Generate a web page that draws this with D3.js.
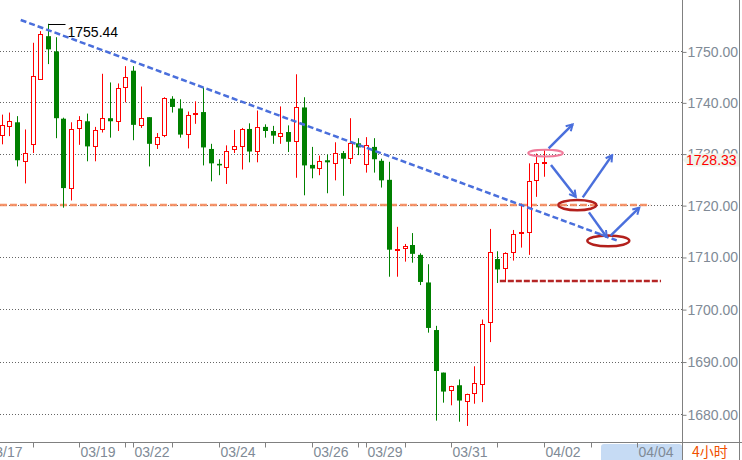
<!DOCTYPE html>
<html><head><meta charset="utf-8">
<script src="https://cdn.jsdelivr.net/npm/d3@7/dist/d3.min.js"></script>
<style>body{margin:0;background:#fff}svg{display:block}</style>
</head><body><svg id="c" width="742" height="460"></svg>
<script>
// ---- data (4-hour candles, XAU) ----
const opens  = [1733.6,1735.3,1736.1,1728.5,1731.9,1744.6,1753.0,1750.0,1736.8,1723.3,1734.9,1736.3,1731.4,1734.7,1736.9,1736.3,1743.1,1746.2,1735.6,1737.1,1731.8,1733.6,1740.7,1738.8,1733.8,1737.7,1738.1,1730.9,1728.0,1727.4,1730.9,1731.4,1734.8,1730.5,1735.2,1734.4,1733.4,1734.2,1732.4,1739.0,1727.8,1727.2,1728.7,1728.2,1730.1,1729.1,1732.0,1728.0,1731.3,1728.6,1724.9,1711.4,1711.8,1712.3,1710.4,1705.1,1696.0,1687.9,1684.6,1685.5,1682.5,1684.1,1685.7,1697.6,1709.6,1707.8,1710.9,1714.7,1714.9,1724.8,1728.1];
const highs  = [1737.6,1738.0,1737.3,1734.7,1751.7,1754.0,1755.44,1752.8,1737.0,1736.1,1737.3,1737.8,1735.2,1745.6,1743.9,1743.7,1747.1,1747.1,1743.1,1737.1,1734.0,1741.0,1741.2,1740.6,1738.2,1740.2,1742.9,1731.9,1728.9,1731.6,1734.6,1735.0,1735.9,1738.4,1735.7,1735.4,1739.2,1735.5,1745.5,1741.0,1731.3,1729.6,1729.8,1732.2,1730.5,1736.9,1733.0,1733.2,1733.0,1729.0,1728.4,1715.8,1712.5,1714.6,1710.7,1708.6,1696.8,1687.9,1685.4,1686.6,1683.9,1689.1,1698.0,1715.4,1711.1,1710.9,1715.2,1720.3,1728.1,1730.0,1730.7];
const lows   = [1731.8,1733.4,1727.5,1724.2,1730.1,1744.6,1747.5,1733.0,1719.5,1720.9,1731.7,1728.5,1728.5,1734.1,1733.1,1734.4,1740.0,1732.6,1735.0,1727.5,1730.9,1733.2,1738.0,1733.1,1731.0,1735.8,1727.7,1724.6,1725.8,1724.1,1730.1,1726.9,1728.3,1728.3,1733.1,1731.9,1731.9,1730.3,1725.3,1721.9,1725.2,1725.8,1722.3,1724.8,1721.8,1728.0,1729.7,1726.3,1726.3,1723.4,1706.2,1706.2,1709.1,1708.9,1704.6,1695.5,1678.8,1682.2,1681.7,1678.6,1677.8,1682.0,1682.3,1693.7,1705.0,1705.2,1709.3,1711.8,1710.4,1721.6,1725.5];
const closes = [1735.5,1736.3,1728.7,1730.1,1745.2,1753.4,1750.4,1736.9,1723.3,1734.7,1736.5,1731.4,1734.5,1737.0,1736.3,1742.9,1744.9,1735.6,1737.0,1731.9,1733.2,1740.8,1739.1,1733.7,1737.6,1738.0,1731.2,1728.1,1727.7,1730.5,1731.5,1734.8,1730.4,1735.1,1734.4,1733.5,1734.1,1732.3,1739.0,1727.7,1727.1,1728.5,1728.3,1730.2,1729.0,1732.0,1731.2,1731.6,1728.9,1724.8,1711.4,1711.6,1712.1,1710.6,1705.2,1696.4,1688.2,1684.3,1685.4,1682.6,1683.9,1686.0,1697.1,1710.9,1707.6,1710.7,1714.5,1714.9,1724.6,1728.2,1728.33];

const dayTickIdx    = [-2, 4, 10, 16, 17, 22, 28, 34, 40, 46, 47, 52, 58, 64, 70, 76, 82];
const dayTickLabels = ["03/17","","03/19","","03/22","","03/24","","03/26","","03/29","","03/31","","04/02","","04/04"];
const priceTicks    = [1680, 1690, 1700, 1710, 1720, 1730, 1740, 1750];
const lastPrice     = 1728.33;
const periodLabel   = "4小时";
const highMarkIdx   = 6;
const highMarkValue = 1755.44;

// annotations in (candle index, price) coordinates
const trendLine   = [[2.48, 1756.2], [79.38, 1713.2]];
const supportLine = [[-0.2, 1720.0], [83.7, 1720.0]];
const targetLine  = [[64.3, 1705.4], [85.1, 1705.4]];
const pinkEllipse = [70.2, 1730.1];
const redEllipses = [[74.3, 1720.0], [78.3, 1713.1]];
const arrows = [
  [70.6, 1731.0, 73.7, 1735.7],
  [70.9, 1727.8, 74.1, 1721.6],
  [75.0, 1721.5, 78.8, 1729.7],
  [75.8, 1718.6, 78.1, 1713.8],
  [78.6, 1714.1, 82.3, 1719.5]
];

// ---- drawing ----
const svg = d3.select("#c");
const W = 742, H = 460, axisX = 682.5, axisY = 442.5;
const x = d3.scaleLinear().domain([0, 87]).range([1.5, 1.5 + 87 * 7.75]);
const y = d3.scaleLog().domain([1680, 1750]).range([414.3, 51.4]);
const FONT = "'Liberation Sans', Arial, sans-serif";
const GRAY = "#808a96";

svg.append("rect").attr("width", W).attr("height", H).attr("fill", "#fff");

// grid lines
svg.append("g").selectAll("line").data(priceTicks).join("line")
  .attr("x1", 0).attr("x2", axisX)
  .attr("y1", d => Math.round(y(d)) + 0.5).attr("y2", d => Math.round(y(d)) + 0.5)
  .attr("stroke", "#666").attr("stroke-width", 1).attr("stroke-dasharray", "1,2");

// support (orange) dashed line
const lineGen = d3.line().x(d => x(d[0])).y(d => y(d[1]));
svg.append("path").attr("d", lineGen(supportLine))
  .attr("stroke", "#f4885a").attr("stroke-opacity", 0.9).attr("stroke-width", 2.5)
  .attr("stroke-dasharray", "7,3").attr("fill", "none");

// candles
const idx = d3.range(opens.length);
const cg = svg.append("g");
idx.forEach(i => {
  const up = closes[i] >= opens[i];
  const col = up ? "#ff0000" : "#008000";
  const cx = Math.round(x(i));
  cg.append("line").attr("x1", cx + 0.5).attr("x2", cx + 0.5)
    .attr("y1", y(highs[i])).attr("y2", y(lows[i]))
    .attr("stroke", col).attr("stroke-width", 1);
  const top = y(Math.max(opens[i], closes[i]));
  const bot = y(Math.min(opens[i], closes[i]));
  if (up) {
    cg.append("rect").attr("x", cx - 1.5).attr("width", 4)
      .attr("y", Math.round(top) + 0.5).attr("height", Math.max(1, Math.round(bot) - Math.round(top)))
      .attr("fill", "#fff").attr("stroke", col).attr("stroke-width", 1);
  } else {
    cg.append("rect").attr("x", cx - 2).attr("width", 5)
      .attr("y", top).attr("height", Math.max(1.5, bot - top))
      .attr("fill", col);
  }
});

// high marker
const hx = Math.round(x(highMarkIdx)) + 0.5, hy = Math.round(y(highMarkValue)) + 0.5;
svg.append("line").attr("x1", hx).attr("x2", hx + 17).attr("y1", hy).attr("y2", hy)
  .attr("stroke", "#000").attr("stroke-width", 1);
svg.append("text").attr("x", hx + 19).attr("y", hy + 12.5)
  .attr("font-family", FONT).attr("font-size", 14).attr("fill", "#000")
  .text(highMarkValue.toFixed(2));

// trend line
svg.append("path").attr("d", lineGen(trendLine))
  .attr("stroke", "#4a6fdc").attr("stroke-width", 2.5).attr("stroke-dasharray", "6,3").attr("fill", "none");

// target dashed line
svg.append("path").attr("d", lineGen(targetLine))
  .attr("stroke", "#b52525").attr("stroke-width", 2.5).attr("stroke-dasharray", "6,2").attr("fill", "none");

// ellipses
svg.append("ellipse").attr("cx", x(pinkEllipse[0])).attr("cy", y(pinkEllipse[1]))
  .attr("rx", 17.3).attr("ry", 3.4).attr("fill", "none").attr("stroke", "#f07a9a").attr("stroke-width", 2);
svg.append("g").selectAll("ellipse").data(redEllipses).join("ellipse")
  .attr("cx", d => x(d[0])).attr("cy", d => y(d[1]))
  .attr("rx", (d, i) => i ? 21 : 19).attr("ry", (d, i) => i ? 5.4 : 5.1)
  .attr("fill", "none").attr("stroke", "#b3201c").attr("stroke-width", 2.5);

// arrows
const defs = svg.append("defs");
defs.append("marker").attr("id", "ah").attr("viewBox", "0 0 10 10")
  .attr("refX", 8).attr("refY", 5).attr("markerWidth", 3.6).attr("markerHeight", 3.6)
  .attr("orient", "auto")
  .append("path").attr("d", "M1,1 L8,5 L1,9").attr("fill", "none")
  .attr("stroke", "#4a6fdc").attr("stroke-width", 2.2).attr("stroke-linejoin", "miter");
svg.append("g").selectAll("line").data(arrows).join("line")
  .attr("x1", d => x(d[0])).attr("y1", d => y(d[1]))
  .attr("x2", d => x(d[2])).attr("y2", d => y(d[3]))
  .attr("stroke", "#4a6fdc").attr("stroke-width", 2.5).attr("marker-end", "url(#ah)");

// right price axis
svg.append("line").attr("x1", axisX).attr("x2", axisX).attr("y1", 0).attr("y2", H)
  .attr("stroke", "#808080").attr("stroke-width", 1);
svg.append("line").attr("x1", 739.5).attr("x2", 739.5).attr("y1", 0).attr("y2", H)
  .attr("stroke", "#808080").attr("stroke-width", 1);
const yAxis = d3.axisRight(y).tickValues(priceTicks).tickFormat(d3.format(".2f")).tickSize(4).tickPadding(1);
const ya = svg.append("g").attr("transform", `translate(${axisX},0.5)`).call(yAxis);
ya.select(".domain").remove();
ya.selectAll("line").attr("stroke", "#808080");
ya.selectAll("text").attr("font-family", FONT).attr("font-size", 14).attr("fill", GRAY);

// last-price tag
const ly = Math.round(y(lastPrice)) - 2;
svg.append("path").attr("d", `M683,${ly} L689,${ly - 6.5} L739,${ly - 6.5} L739,${ly + 6.5} L689,${ly + 6.5} Z`)
  .attr("fill", "#eef4ec");
svg.append("text").attr("x", 686).attr("y", ly).attr("dy", "0.35em")
  .attr("font-family", FONT).attr("font-size", 14).attr("fill", "#ff0000")
  .text(lastPrice.toFixed(2));

// bottom time axis
svg.append("rect").attr("x", 601).attr("y", 444).attr("width", 81).attr("height", 20).attr("rx", 3)
  .attr("fill", "#c6dbf4");
svg.append("line").attr("x1", 0).attr("x2", W).attr("y1", axisY).attr("y2", axisY)
  .attr("stroke", "#808080").attr("stroke-width", 1);
const xg = svg.append("g");
xg.selectAll("line").data(dayTickIdx).join("line")
  .attr("x1", d => Math.round(x(d)) + 0.5).attr("x2", d => Math.round(x(d)) + 0.5)
  .attr("y1", axisY).attr("y2", axisY + 5).attr("stroke", "#808080");
xg.selectAll("text").data(dayTickIdx).join("text")
  .attr("x", d => Math.round(x(d)) + 1.5).attr("y", 452).attr("dy", "0.35em")
  .attr("font-family", FONT).attr("font-size", 14).attr("fill", GRAY)
  .text((d, i) => dayTickLabels[i]);

svg.append("text").attr("x", 692).attr("y", 452).attr("dy", "0.35em")
  .attr("font-family", "'Noto Sans CJK SC', 'Liberation Sans', sans-serif").attr("font-size", 14)
  .attr("fill", "#f05000").text(periodLabel);
</script></body></html>
